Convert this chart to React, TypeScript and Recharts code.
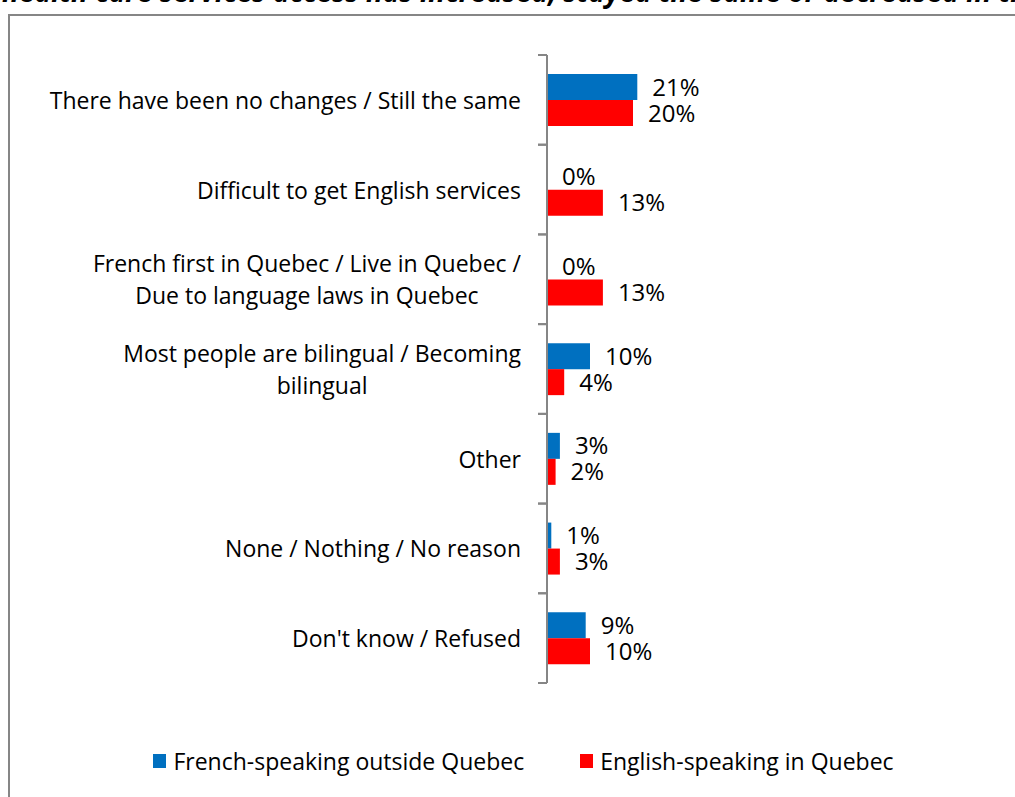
import { BarChart, Bar, XAxis, YAxis, LabelList } from "recharts";

const categories = [
  "There have been no changes / Still the same",
  "Difficult to get English services",
  "French first in Quebec / Live in Quebec /\nDue to language laws in Quebec",
  "Most people are bilingual / Becoming\nbilingual",
  "Other",
  "None / Nothing / No reason",
  "Don't know / Refused",
];
const frenchOutside = [21, 0, 0, 10, 3, 1, 9];
const englishInQuebec = [20, 13, 13, 4, 2, 3, 10];
const seriesNames = ["French-speaking outside Quebec", "English-speaking in Quebec"];
const seriesColors = ["#0070C0", "#FF0000"];

const title = "health care services access has increased, stayed the same or decreased in the";

const data = categories.map((name, i) => ({
  name,
  french: frenchOutside[i],
  english: englishInQuebec[i],
}));

const FONT = "'Open Sans', 'Noto Sans', sans-serif";
const GRAY = "#868686";

const W = 1015;
const H = 797;
const MARGIN = { top: 55, right: 253, bottom: 114, left: 0 };
const TICK_GAP = 26;
const TICK_LEN = 9;

// category label plus Excel-style tick marks between categories
function CategoryTick(props: any) {
  const { x, y, payload, visibleTicksCount } = props;
  const plotH = props.height || H - MARGIN.top - MARGIN.bottom;
  const band = plotH / (visibleTicksCount || categories.length);
  const axisX = x + TICK_GAP;
  const lines = String(payload.value).split("\n");
  const lh = 32;
  const h = lines.length * lh;
  return (
    <g>
      <line x1={axisX - TICK_LEN} x2={axisX} y1={y - band / 2} y2={y - band / 2} stroke={GRAY} strokeWidth={2} />
      <line x1={axisX - TICK_LEN} x2={axisX} y1={y + band / 2} y2={y + band / 2} stroke={GRAY} strokeWidth={2} />
      <foreignObject x={x - 530} y={y - h / 2} width={530} height={h}>
        <div style={{ display: "flex", justifyContent: "flex-end", width: 530, height: h }}>
          <div
            style={{
              textAlign: "center",
              fontFamily: FONT,
              fontSize: 23,
              lineHeight: `${lh}px`,
              color: "#000",
              whiteSpace: "nowrap",
            }}
          >
            {lines.map((l, i) => (
              <div key={i}>{l}</div>
            ))}
          </div>
        </div>
      </foreignObject>
    </g>
  );
}

const pct = (v: any) => `${v}%`;
// keeps 0% bars in the layout so their labels still show
const keepZero = (v: any) => (v === 0 ? 0.01 : 0);

export default function App() {
  return (
    <div style={{ position: "relative", width: W, height: H, overflow: "hidden" }}>
      <style>{`body{margin:0;overflow:hidden;}`}</style>
      <div
        style={{
          position: "absolute",
          left: 2,
          top: -28,
          fontFamily: FONT,
          fontSize: 28,
          fontWeight: 700,
          fontStyle: "italic",
          whiteSpace: "nowrap",
          color: "#000",
        }}
      >
        {title}
      </div>
      <div
        style={{
          position: "absolute",
          left: 8,
          top: 14,
          width: 1040,
          height: 800,
          borderLeft: `2px solid ${GRAY}`,
          borderTop: `2px solid ${GRAY}`,
          boxSizing: "border-box",
        }}
      />
      <div style={{ position: "absolute", left: 0, top: 0 }}>
        <BarChart
          width={W}
          height={H}
          data={data}
          layout="vertical"
          margin={MARGIN}
          barCategoryGap={19}
          barGap={0}
        >
          <XAxis type="number" domain={[0, 50]} hide />
          <YAxis
            type="category"
            dataKey="name"
            width={547}
            axisLine={{ stroke: GRAY, strokeWidth: 2 }}
            tickLine={false}
            tickSize={0}
            tickMargin={TICK_GAP}
            interval={0}
            tick={<CategoryTick />}
          />
          <Bar
            dataKey="french"
            name={seriesNames[0]}
            fill={seriesColors[0]}
            minPointSize={keepZero}
            isAnimationActive={false}
          >
            <LabelList
              dataKey="french"
              position="right"
              offset={15}
              formatter={pct}
              style={{ fontFamily: FONT, fontSize: 24, fill: "#000" }}
            />
          </Bar>
          <Bar
            dataKey="english"
            name={seriesNames[1]}
            fill={seriesColors[1]}
            minPointSize={keepZero}
            isAnimationActive={false}
          >
            <LabelList
              dataKey="english"
              position="right"
              offset={15}
              formatter={pct}
              style={{ fontFamily: FONT, fontSize: 24, fill: "#000" }}
            />
          </Bar>
        </BarChart>
      </div>
      <div
        style={{
          position: "absolute",
          left: 0,
          width: 1047,
          top: 745,
          display: "flex",
          justifyContent: "center",
          gap: 56,
          fontFamily: FONT,
          fontSize: 23,
          color: "#000",
        }}
      >
        {seriesNames.map((n, i) => (
          <div key={n} style={{ display: "flex", alignItems: "center" }}>
            <span
              style={{
                display: "inline-block",
                width: 13,
                height: 14,
                background: seriesColors[i],
                marginRight: 7,
              }}
            />
            {n}
          </div>
        ))}
      </div>
    </div>
  );
}
